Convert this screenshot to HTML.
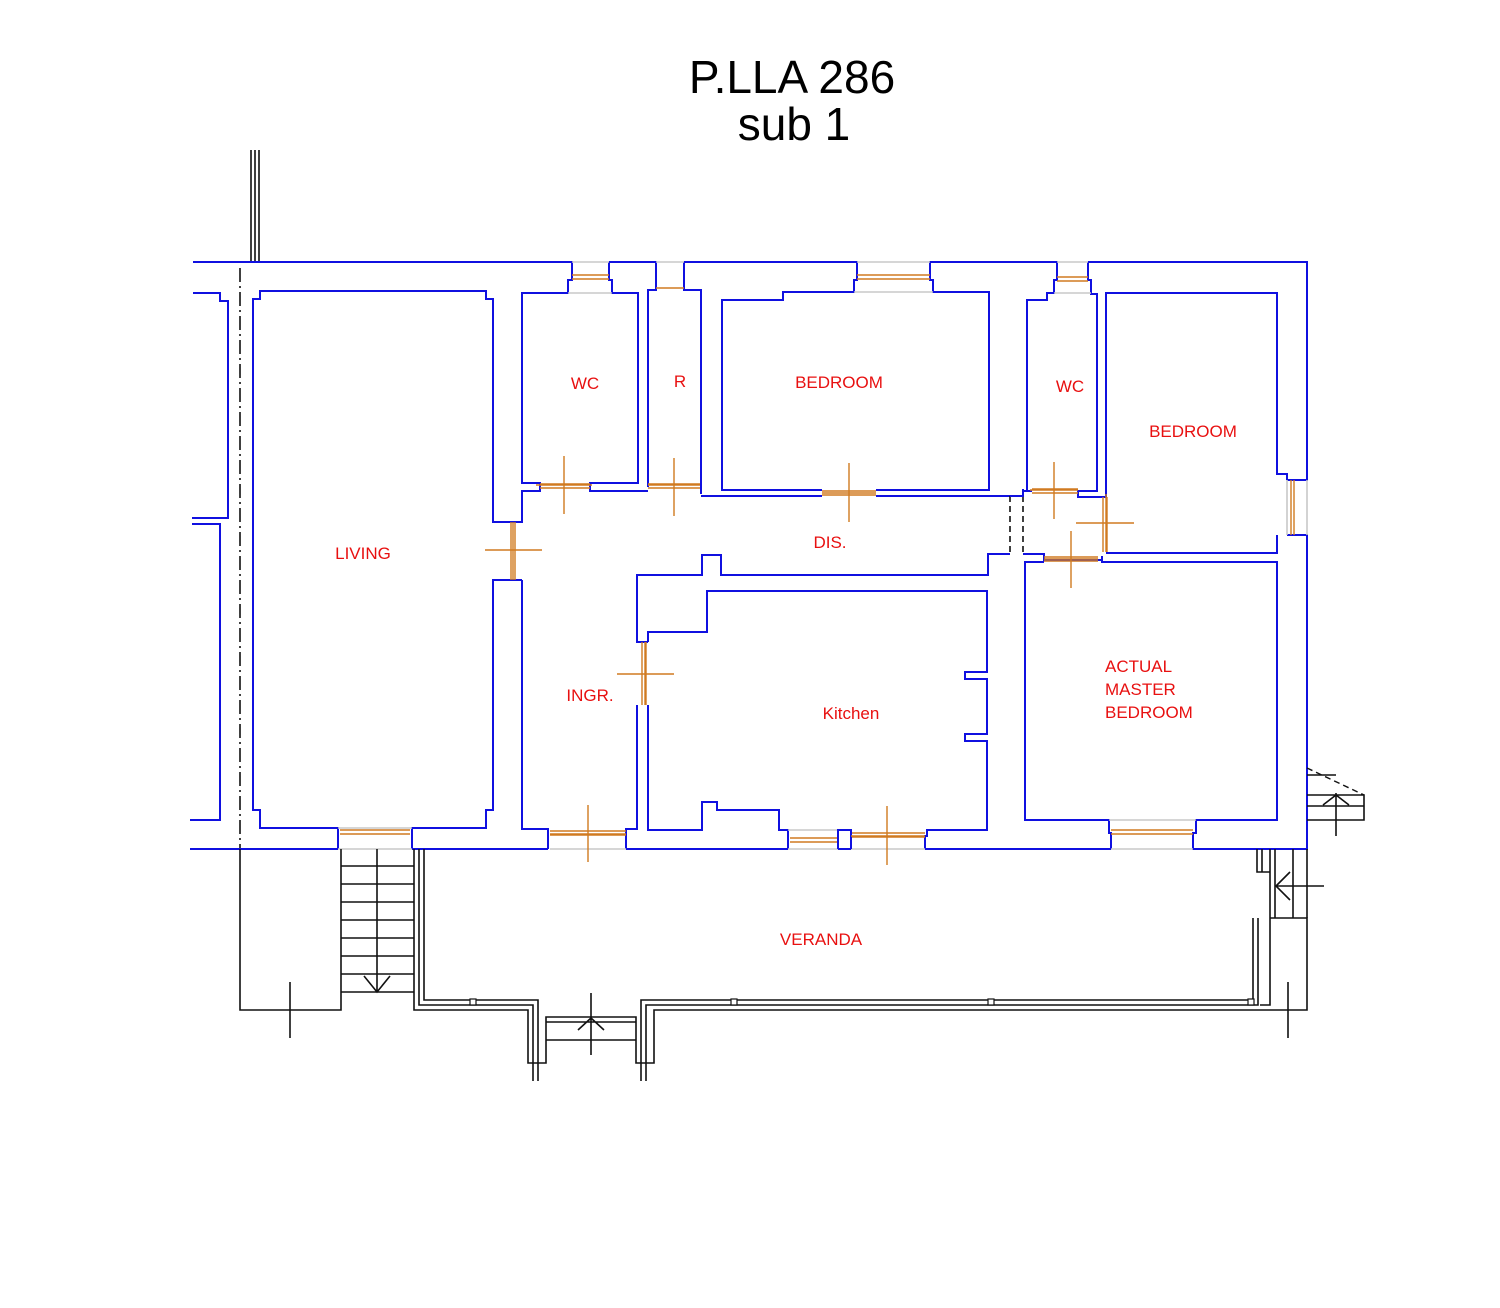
<!DOCTYPE html>
<html><head><meta charset="utf-8"><style>
html,body{margin:0;padding:0;background:#fff}
svg{display:block}
text{font-family:"Liberation Sans",sans-serif}
.b{fill:none;stroke:#1010e0;stroke-width:2}
.k{fill:none;stroke:#111;stroke-width:1.6}
.o{fill:none;stroke:#d07a20;stroke-width:1.4}
.g{fill:none;stroke:#c8c8c8;stroke-width:1.6}
.r{fill:#e81010;font-size:17px}
</style></head><body>
<svg width="1500" height="1308" viewBox="0 0 1500 1308" xmlns="http://www.w3.org/2000/svg">
<text x="792" y="93" font-size="46" text-anchor="middle">P.LLA 286</text>
<text x="794" y="140" font-size="46" text-anchor="middle">sub 1</text>

<path class="k" d="M251,150V262M255,150V262M259,150V262"/>

<path class="b" d="M193,293H220V301H228V518H192M192,524H220V820H190"/>
<path d="M240,268V849" stroke="#111" stroke-width="1.6" stroke-dasharray="14,4,2,4"/>

<path class="b" d="M193,262H572V280H568V293H522V483H540V491H522V522H493V299H486V291H260V299H253V810H260V828H338V849"/>
<path class="b" d="M609,262V280H612V293H638V483H590V491H648"/>
<path class="g" d="M572,262H609M568,293H612"/>
<path class="o" d="M572,275H609M572,279H609"/>
<path class="b" d="M609,262H656V290H648V487M656,262"/>
<path class="b" d="M684,262V290H701V494"/>
<path class="g" d="M656,262H684"/>
<path class="o" d="M656,288H684"/>
<path class="o" d="M540,484H590M540,488H590M648,484H700M648,488H700"/>
<path class="b" d="M684,262H857V280H854V292H783V300H722V490H822"/>
<path class="b" d="M876,490H989V292H933V280H930V262H1057V280H1054V293H1047V300H1027V491H1032"/>
<path class="g" d="M857,262H930M854,292H933"/>
<path class="o" d="M857,275H930M857,279H930"/>
<path class="b" d="M701,496H822M876,496H1010"/>
<path class="o" d="M822,491H876M822,495H876"/>
<path d="M1010,496V554M1023,496V554" stroke="#111" stroke-width="1.6" stroke-dasharray="6,4"/>
<path class="b" d="M1088,262V280H1091V294H1097V491H1078V497H1106V293H1277V474H1287V480"/>
<path class="b" d="M1010,496H1023V489M1023,489V491H1032"/>
<path class="g" d="M1057,262H1088M1054,293H1091"/>
<path class="o" d="M1057,277H1088M1057,281H1088"/>
<path class="o" d="M1032,489H1078M1032,493H1078"/>
<path class="b" d="M1088,262H1307V480H1287M1287,535H1307V849H1193V833H1196V820H1277V562H1102V556"/>
<path class="g" d="M1287,480V535M1307,480V535"/>
<path class="o" d="M1291,480V535M1294,480V535"/>
<path class="b" d="M1277,535V553H1107V552"/>
<path class="o" d="M1103,497V552M1107,497V552"/>
<path class="b" d="M1102,556V560H1044V554H1023"/>
<path class="b" d="M1044,562H1025V820H1109V833H1111V849"/>
<path class="o" d="M1044,557H1098M1044,561H1098"/>
<path class="g" d="M1109,820H1196M1111,849H1193"/>
<path class="o" d="M1111,830H1193M1111,834H1193"/>
<path class="b" d="M1010,554H988V575H721V555H702V575H637V642H648"/>
<path class="b" d="M648,642V632H707V591H987V672H965V679H987V734H965V741H987V830H927V836H925V849"/>
<path class="o" d="M642,642V705M646,642V705"/>
<path class="b" d="M637,705V829H626V849M648,705V830H702V802H717V810H779V830H788V849"/>
<path class="b" d="M522,580V829H548V849"/>
<path class="o" d="M550,831H626M550,835H626"/>
<path class="g" d="M550,849H626M788,830H838M788,849H838M851,849H925"/>
<path class="o" d="M790,838H838M790,842H838M851,833H925M851,837H925"/>
<path class="b" d="M838,849V830H851V849"/>
<path class="b" d="M190,849H338M412,849V828H486V810H493V580H522M412,849H548M626,849H788M838,849H851M925,849H1111M1193,849H1307"/>
<path class="g" d="M338,849H412M338,828H412"/>
<path class="o" d="M340,830H410M340,834H410"/>
<path class="o" d="M511,522V580M515,522V580"/>

<path class="o" d="M564,456V514M536,485H592M674,458V516M648,485H700M849,463V522M822,493H876M1054,462V519M1030,490H1078M1106,494V552M1076,523H1134M1071,531V588M1044,559H1098M485,550H542M513,522V580M617,674H674M645,642V705M588,805V862M550,834H626M887,806V865M851,836H925"/>

<path class="k" d="M240,849V1010H341V849M341,866H414M341,884H414M341,902H414M341,920H414M341,938H414M341,956H414M341,974H414M341,992H414M377,849V992M364,976L377,992L390,976"/>
<path class="k" d="M290,982V1038"/>
<path class="k" d="M414,849V1010H528V1063H546V1017H636V1063H654V1010H1307V918H1270V849M419,849V1005H533V1081M424,849V1000H538V1081M641,1081V1000H1253V918M646,1081V1005H1258V918M1270,918V1005H1260"/>
<path class="k" d="M546,1022H636M546,1040H636M591,993V1055M578,1030L591,1018L604,1030"/>
<rect x="470" y="999" width="6" height="6" fill="#fff" stroke="#111" stroke-width="1.2"/>
<rect x="731" y="999" width="6" height="6" fill="#fff" stroke="#111" stroke-width="1.2"/>
<rect x="988" y="999" width="6" height="6" fill="#fff" stroke="#111" stroke-width="1.2"/>
<rect x="1248" y="999" width="6" height="6" fill="#fff" stroke="#111" stroke-width="1.2"/>
<path class="k" d="M1257,849V872H1270M1262,849V872M1275,849V918M1293,849V918M1307,849V918M1276,886H1324M1276,886L1290,872M1276,886L1290,900M1288,982V1038"/>
<path class="k" d="M1307,775H1336M1307,795H1364V820H1307M1307,806H1364M1336,793V836M1323,805L1336,795L1349,805"/>
<path d="M1307,768L1364,795" stroke="#111" stroke-width="1.4" stroke-dasharray="6,4" fill="none"/>

<text class="r" x="585" y="389" text-anchor="middle">WC</text>
<text class="r" x="680" y="387" text-anchor="middle">R</text>
<text class="r" x="839" y="388" text-anchor="middle">BEDROOM</text>
<text class="r" x="1070" y="392" text-anchor="middle">WC</text>
<text class="r" x="1193" y="437" text-anchor="middle">BEDROOM</text>
<text class="r" x="363" y="559" text-anchor="middle">LIVING</text>
<text class="r" x="830" y="548" text-anchor="middle">DIS.</text>
<text class="r" x="590" y="701" text-anchor="middle">INGR.</text>
<text class="r" x="851" y="719" text-anchor="middle">Kitchen</text>
<text class="r" x="1105" y="672">ACTUAL</text>
<text class="r" x="1105" y="695">MASTER</text>
<text class="r" x="1105" y="718">BEDROOM</text>
<text class="r" x="821" y="945" text-anchor="middle">VERANDA</text>
</svg>
</body></html>
